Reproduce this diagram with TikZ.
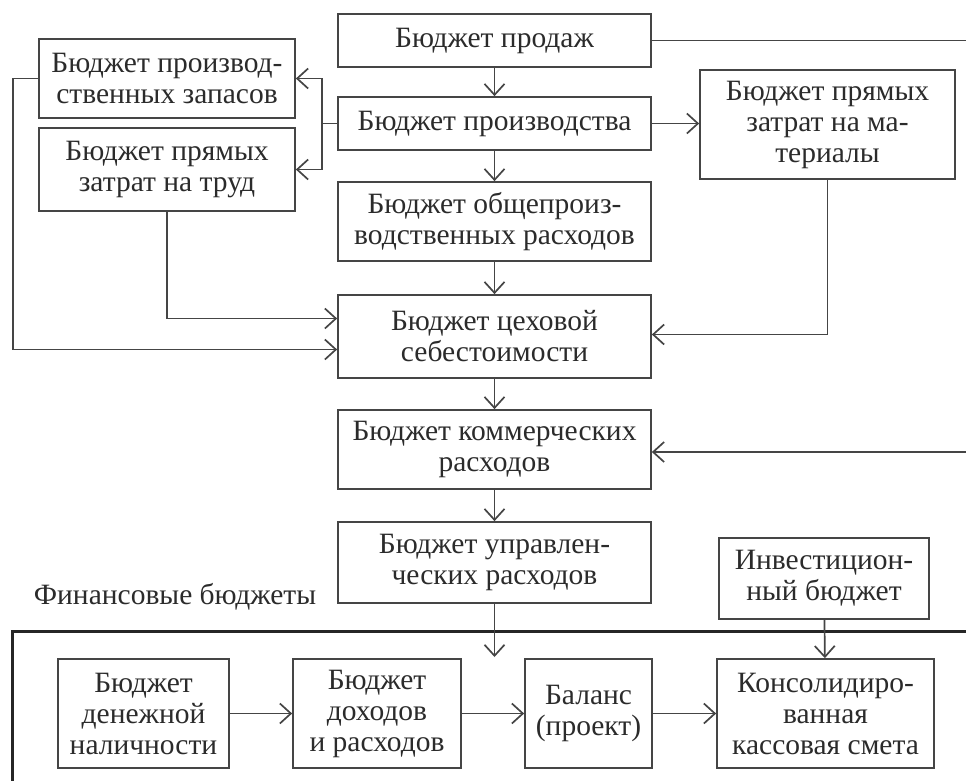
\documentclass[tikz,border=0pt]{standalone}
\usepackage{fontspec}
\setmainfont{Liberation Serif}
\usetikzlibrary{arrows.meta, positioning, calc}

\definecolor{inkgray}{HTML}{454545}
\definecolor{textgray}{HTML}{2B2B2B}

\begin{document}
\begin{tikzpicture}[
  x=1pt, y=-1pt,
  font=\fontsize{29.5}{31}\selectfont,
  % ---- Budget box styles ----
  base/.style={draw=inkgray, rectangle, line width=1.7pt,
    align=center, inner sep=2pt, text=textgray},
  Bmain/.style ={base, minimum width=313pt},
  Bside/.style ={base, minimum width=256pt},
  Bfin/.style  ={base, minimum height=109pt},
  % ---- Arrow styles ----
  flow/.style={-{Straight Barb[length=11pt, width=20pt]},
    line width=1.7pt, draw=inkgray},
  frm/.style ={line width=3pt, draw=black!85},
]
\useasboundingbox (0,0) rectangle (966,780);

% ---- Operating budgets (centre column) ----
\node[Bmain, minimum height=53pt] (sales)    at (494.5,40.5)  {Бюджет продаж};
\node[Bmain, minimum height=53pt] (prod)     at (494.5,123.5) {Бюджет производства};
\node[Bmain, minimum height=79pt] (overhead) at (494.5,221.5)
  {Бюджет общепроиз-\\водственных расходов};
\node[Bmain, minimum height=83pt] (shop)     at (494.5,336.5)
  {Бюджет цеховой\\себестоимости};
\node[Bmain, minimum height=79pt] (comm)     at (494.5,449.5)
  {Бюджет коммерческих\\расходов};
\node[Bmain, minimum height=81pt] (admin)    at (494.5,562.5)
  {Бюджет управлен-\\ческих расходов};

% ---- Side budgets ----
\node[Bside, minimum height=79pt] (stock) at (167,78.5)
  {Бюджет производ-\\ственных запасов};
\node[Bside, minimum height=83pt] (labor) at (167,169.5)
  {Бюджет прямых\\затрат на труд};
\node[base, minimum width=255pt, minimum height=109pt] (mater) at (827.5,124.5)
  {Бюджет прямых\\затрат на ма-\\териалы};
\node[base, minimum width=210pt, minimum height=81pt] (invest) at (824,578.5)
  {Инвестицион-\\ный бюджет};

% ---- Financial budgets ----
\node[text=textgray] (fintitle) at (175,597) {Финансовые бюджеты};
\draw[frm] (12,790) -- (12,631) -- (980,631);
\node[Bfin, minimum width=171pt] (cash)    at (143.5,713.5)
  {Бюджет\\денежной\\наличности};
\node[Bfin, minimum width=168pt] (income)  at (377,713.5)
  {Бюджет\\доходов\\и расходов};
\node[Bfin, minimum width=127pt] (balance) at (588.5,713.5)
  {Баланс\\(проект)};
\node[Bfin, minimum width=217pt] (consol)  at (825.5,713.5)
  {Консолидиро-\\ванная\\кассовая смета};

% ---- Helper points ----
\coordinate (split) at ([xshift=-15pt]prod.west);
\coordinate (farL)  at (13,78.5);
\coordinate (farRt) at (980,40.5);
\coordinate (farRb) at (980,452);
\coordinate (finin) at (494.5,657);

% ---- Centre column flow ----
\draw[flow] (sales) -- (prod);
\draw[flow] (prod) -- (overhead);
\draw[flow] (overhead) -- (shop);
\draw[flow] (shop) -- (comm);
\draw[flow] (comm) -- (admin);
\draw[flow] (admin) -- (finin);

% ---- Production to side budgets ----
\draw[flow] (prod.west) -- (split) |- (stock.east);
\draw[flow] (prod.west) -- (split) |- (labor.east);
\draw[flow] (prod.east) -- (prod.east -| mater.west);

% ---- Inputs to shop cost ----
\draw[flow] (labor.south) |- ([yshift=18pt]shop.west);
\draw[flow] (stock.west) -- (farL) |- ([yshift=-13pt]shop.west);
\draw[flow] (mater.south) |- ([yshift=2pt]shop.east);

% ---- Sales to commercial expenses (around the right edge) ----
\draw[flow] (sales.east) -- (farRt) -- (farRb) -- (farRb -| comm.east);

% ---- Financial chain ----
\draw[flow] (invest) -- (consol);
\draw[flow] (cash) -- (income);
\draw[flow] (income) -- (balance);
\draw[flow] (balance) -- (consol);
\end{tikzpicture}
\end{document}
